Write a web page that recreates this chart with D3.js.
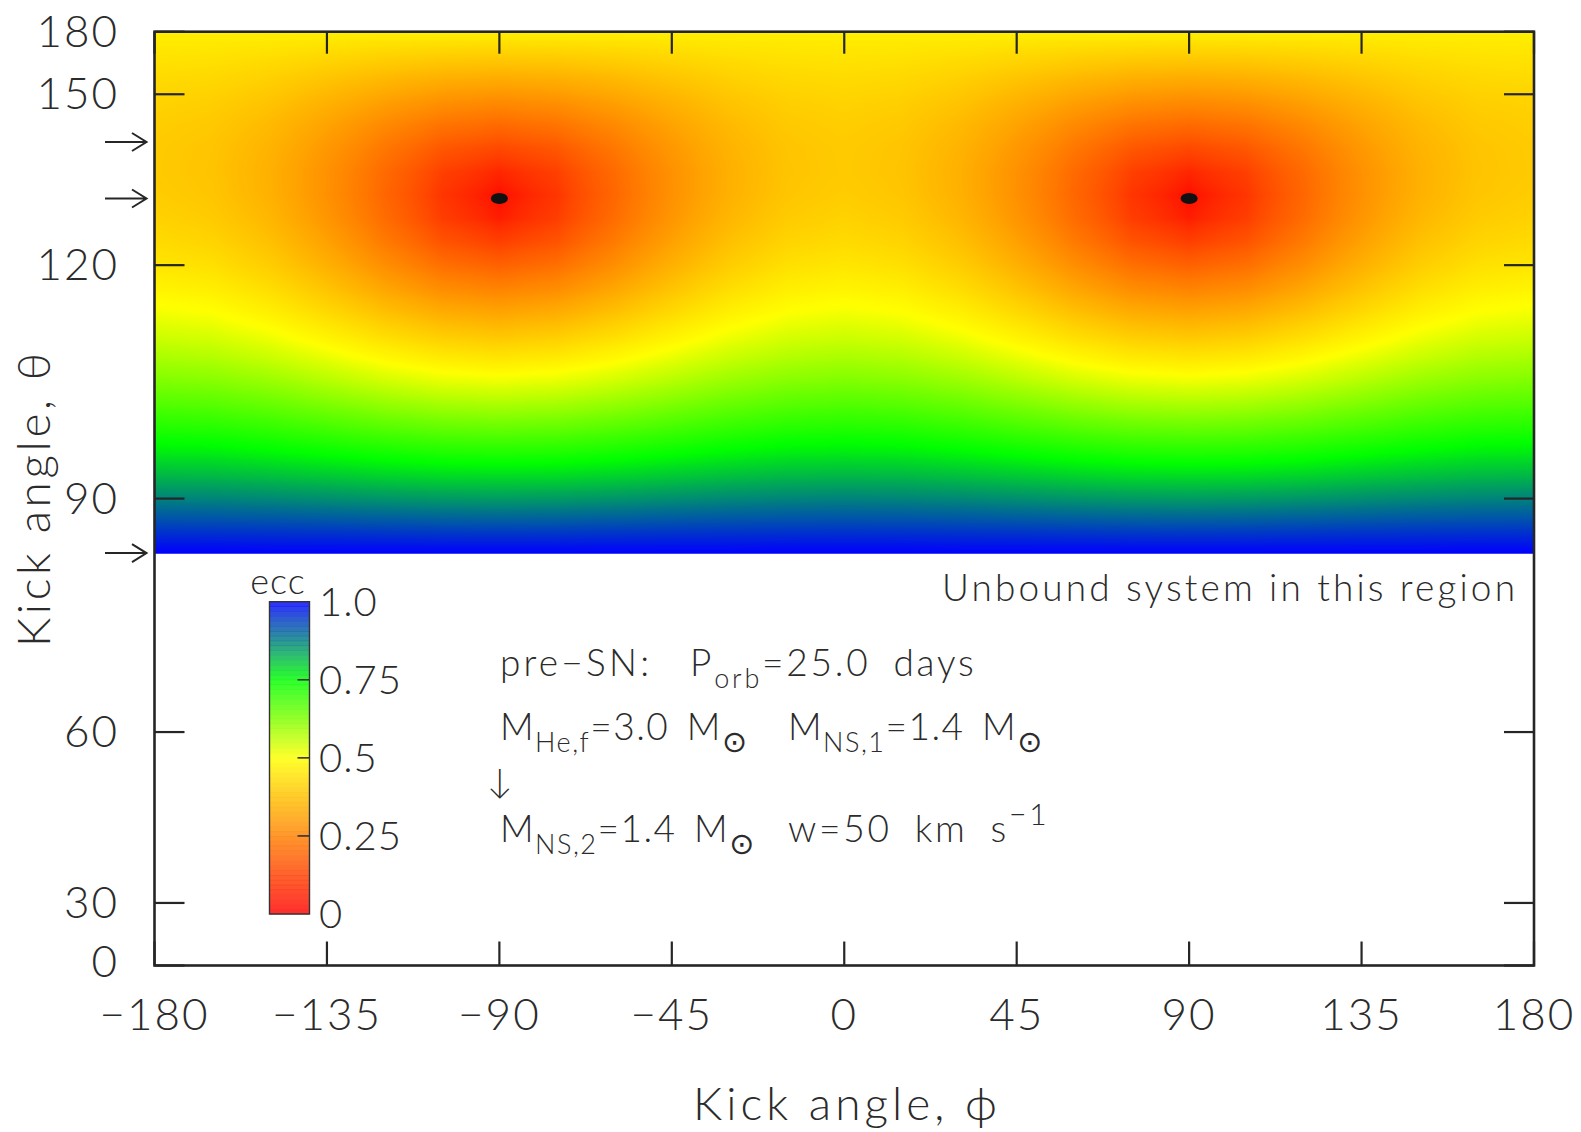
<!DOCTYPE html>
<html>
<head>
<meta charset="utf-8">
<script src="https://cdn.jsdelivr.net/npm/d3@7"></script>
<style>
  html, body { margin: 0; padding: 0; background: #fff; }
  svg { display: block; }
  text { font-family: Lato, "Open Sans", "DejaVu Sans", sans-serif; font-weight: 300; fill: #2b2b2b; }
</style>
</head>
<body>
<svg id="chart" width="1581" height="1132"></svg>
<script>
// ---- kick-direction grid ----
// azimuthal kick angle phi (deg), one column each
const phiGrid = [-180, -165, -150, -135, -120, -105, -90, -75, -60, -45, -30, -15, 0,
                 15, 30, 45, 60, 75, 90, 105, 120, 135, 150, 165, 180];
// cos(theta) of each row; the last row is the bound/unbound limit (theta ~ 83.3 deg)
const cosThetaGrid = [-1.00, -0.95, -0.90, -0.85, -0.80, -0.75, -0.70, -0.65, -0.60, -0.55,
                      -0.50, -0.45, -0.40, -0.35, -0.30, -0.25, -0.20, -0.15, -0.10, -0.05,
                       0.00, 0.05, 0.10, 0.1185];
// post-SN eccentricity, one row per cos(theta), one value per phi column
const eccRows = [
  [0.470,0.470,0.470,0.470,0.470,0.470,0.470,0.470,0.470,0.470,0.470,0.470,0.470,0.470,0.470,0.470,0.470,0.470,0.470,0.470,0.470,0.470,0.470,0.470,0.470],
  [0.448,0.445,0.438,0.427,0.415,0.407,0.404,0.407,0.415,0.427,0.438,0.445,0.448,0.445,0.438,0.427,0.415,0.407,0.404,0.407,0.415,0.427,0.438,0.445,0.448],
  [0.429,0.424,0.409,0.386,0.363,0.345,0.338,0.345,0.363,0.386,0.409,0.424,0.429,0.424,0.409,0.386,0.363,0.345,0.338,0.345,0.363,0.386,0.409,0.424,0.429],
  [0.414,0.406,0.384,0.350,0.314,0.284,0.272,0.284,0.314,0.350,0.384,0.406,0.414,0.406,0.384,0.350,0.314,0.284,0.272,0.284,0.314,0.350,0.384,0.406,0.414],
  [0.403,0.393,0.364,0.320,0.269,0.225,0.206,0.225,0.269,0.320,0.364,0.393,0.403,0.393,0.364,0.320,0.269,0.225,0.206,0.225,0.269,0.320,0.364,0.393,0.403],
  [0.397,0.385,0.351,0.298,0.233,0.170,0.140,0.170,0.233,0.298,0.351,0.385,0.397,0.385,0.351,0.298,0.233,0.170,0.140,0.170,0.233,0.298,0.351,0.385,0.397],
  [0.396,0.383,0.345,0.285,0.208,0.125,0.075,0.125,0.208,0.285,0.345,0.383,0.396,0.383,0.345,0.285,0.208,0.125,0.075,0.125,0.208,0.285,0.345,0.383,0.396],
  [0.401,0.387,0.347,0.284,0.201,0.104,0.009,0.104,0.201,0.284,0.347,0.387,0.401,0.387,0.347,0.284,0.201,0.104,0.009,0.104,0.201,0.284,0.347,0.387,0.401],
  [0.412,0.398,0.358,0.294,0.212,0.120,0.057,0.120,0.212,0.294,0.358,0.398,0.412,0.398,0.358,0.294,0.212,0.120,0.057,0.120,0.212,0.294,0.358,0.398,0.412],
  [0.429,0.416,0.377,0.316,0.240,0.163,0.123,0.163,0.240,0.316,0.377,0.416,0.429,0.416,0.377,0.316,0.240,0.163,0.123,0.163,0.240,0.316,0.377,0.416,0.429],
  [0.451,0.439,0.402,0.346,0.279,0.217,0.189,0.217,0.279,0.346,0.402,0.439,0.451,0.439,0.402,0.346,0.279,0.217,0.189,0.217,0.279,0.346,0.402,0.439,0.451],
  [0.479,0.467,0.434,0.383,0.325,0.275,0.255,0.275,0.325,0.383,0.434,0.467,0.479,0.467,0.434,0.383,0.325,0.275,0.255,0.275,0.325,0.383,0.434,0.467,0.479],
  [0.510,0.500,0.470,0.426,0.377,0.337,0.321,0.337,0.377,0.426,0.470,0.500,0.510,0.500,0.470,0.426,0.377,0.337,0.321,0.337,0.377,0.426,0.470,0.500,0.510],
  [0.546,0.537,0.511,0.473,0.432,0.399,0.386,0.399,0.432,0.473,0.511,0.537,0.546,0.537,0.511,0.473,0.432,0.399,0.386,0.399,0.432,0.473,0.511,0.537,0.546],
  [0.585,0.577,0.555,0.523,0.489,0.462,0.452,0.462,0.489,0.523,0.555,0.577,0.585,0.577,0.555,0.523,0.489,0.462,0.452,0.462,0.489,0.523,0.555,0.577,0.585],
  [0.627,0.620,0.602,0.575,0.547,0.526,0.518,0.526,0.547,0.575,0.602,0.620,0.627,0.620,0.602,0.575,0.547,0.526,0.518,0.526,0.547,0.575,0.602,0.620,0.627],
  [0.672,0.666,0.651,0.629,0.607,0.590,0.584,0.590,0.607,0.629,0.651,0.666,0.672,0.666,0.651,0.629,0.607,0.590,0.584,0.590,0.607,0.629,0.651,0.666,0.672],
  [0.719,0.715,0.702,0.685,0.668,0.655,0.650,0.655,0.668,0.685,0.702,0.715,0.719,0.715,0.702,0.685,0.668,0.655,0.650,0.655,0.668,0.685,0.702,0.715,0.719],
  [0.768,0.765,0.755,0.742,0.729,0.719,0.716,0.719,0.729,0.742,0.755,0.765,0.768,0.765,0.755,0.742,0.729,0.719,0.716,0.719,0.729,0.742,0.755,0.765,0.768],
  [0.819,0.817,0.810,0.801,0.791,0.784,0.782,0.784,0.791,0.801,0.810,0.817,0.819,0.817,0.810,0.801,0.791,0.784,0.782,0.784,0.791,0.801,0.810,0.817,0.819],
  [0.872,0.870,0.866,0.860,0.854,0.849,0.847,0.849,0.854,0.860,0.866,0.870,0.872,0.870,0.866,0.860,0.854,0.849,0.847,0.849,0.854,0.860,0.866,0.870,0.872],
  [0.926,0.925,0.923,0.920,0.917,0.914,0.913,0.914,0.917,0.920,0.923,0.925,0.926,0.925,0.923,0.920,0.917,0.914,0.913,0.914,0.917,0.920,0.923,0.925,0.926],
  [0.982,0.982,0.981,0.981,0.980,0.979,0.979,0.979,0.980,0.981,0.981,0.982,0.982,0.982,0.981,0.981,0.980,0.979,0.979,0.979,0.980,0.981,0.981,0.982,0.982],
  [1.000,1.000,1.000,1.000,1.000,1.000,1.000,1.000,1.000,1.000,1.000,1.000,1.000,1.000,1.000,1.000,1.000,1.000,1.000,1.000,1.000,1.000,1.000,1.000,1.000]
];

// ---- axes, markers, colour bar ----
const phiTicks = [-180, -135, -90, -45, 0, 45, 90, 135, 180];
const thetaTicks = [0, 30, 60, 90, 120, 150, 180];
const markedTheta = [139.8, 130.0, 83.3];            // arrows on the theta axis
const circularOrbits = [{ phi: -90, theta: 130.0 }, { phi: 90, theta: 130.0 }];  // ecc = 0
const eccStops = [0, 0.25, 0.5, 0.75, 1.0];
const eccColors = ["#ff0000", "#ff8000", "#ffff00", "#00ff00", "#0000ff"];
const eccTicks = [0, 0.25, 0.5, 0.75, 1.0];
const eccTickLabels = ["0", "0.25", "0.5", "0.75", "1.0"];

(function draw() {
  const svg = d3.select("#chart");
  const pL = 154.5, pR = 1534, pT = 31.7, pB = 965.5;

  const x = d3.scaleLinear().domain([-180, 180]).range([pL, pR]);
  // theta axis is uniform in cos(theta): theta = 180 at the top, 0 at the bottom
  const yCos = d3.scaleLinear().domain([-1, 1]).range([pT, pB]);
  const yTheta = t => yCos(Math.cos(t * Math.PI / 180));
  const color = d3.scaleLinear().domain(eccStops).range(eccColors).interpolate(d3.interpolateRgb).clamp(true);

  // ---- eccentricity map (canvas image) ----
  const cosMax = cosThetaGrid[cosThetaGrid.length - 1];
  const W = Math.round(pR - pL);
  const H = Math.ceil(yCos(cosMax) - pT);
  const canvas = document.createElement("canvas");
  canvas.width = W; canvas.height = H;
  const ctx = canvas.getContext("2d");
  const img = ctx.createImageData(W, H);

  const lut = d3.range(1001).map(k => d3.rgb(color(k / 1000)));
  const sq = eccRows.map(r => r.map(v => v * v));

  const colIdx = new Int32Array(W), colW = new Float64Array(W);
  for (let i = 0; i < W; i++) {
    const phi = x.invert(pL + i + 0.5);
    let c = d3.bisectRight(phiGrid, phi) - 1;
    c = Math.max(0, Math.min(phiGrid.length - 2, c));
    colIdx[i] = c;
    colW[i] = (phi - phiGrid[c]) / (phiGrid[c + 1] - phiGrid[c]);
  }
  for (let j = 0; j < H; j++) {
    const cth = yCos.invert(pT + j + 0.5);
    if (cth > cosMax) continue;
    let r = d3.bisectRight(cosThetaGrid, cth) - 1;
    r = Math.max(0, Math.min(cosThetaGrid.length - 2, r));
    const tr = (cth - cosThetaGrid[r]) / (cosThetaGrid[r + 1] - cosThetaGrid[r]);
    const a = sq[r], b = sq[r + 1];
    for (let i = 0; i < W; i++) {
      const c = colIdx[i], tc = colW[i];
      const u0 = a[c] + (a[c + 1] - a[c]) * tc;
      const u1 = b[c] + (b[c + 1] - b[c]) * tc;
      const e = Math.sqrt(Math.max(0, u0 + (u1 - u0) * tr));
      const col = lut[Math.max(0, Math.min(1000, Math.round(e * 1000)))];
      const p = (j * W + i) * 4;
      img.data[p] = col.r; img.data[p + 1] = col.g; img.data[p + 2] = col.b; img.data[p + 3] = 255;
    }
  }
  ctx.putImageData(img, 0, 0);
  svg.append("image")
    .attr("x", pL).attr("y", pT)
    .attr("width", W).attr("height", H)
    .attr("preserveAspectRatio", "none")
    .attr("href", canvas.toDataURL());

  // circular post-SN orbits
  svg.append("g").selectAll("ellipse").data(circularOrbits).join("ellipse")
    .attr("cx", d => x(d.phi)).attr("cy", d => yTheta(d.theta))
    .attr("rx", 8.5).attr("ry", 5.5).attr("fill", "#111");

  // ---- frame and ticks ----
  const ink = "#262626";
  svg.append("rect").attr("x", pL).attr("y", pT).attr("width", pR - pL).attr("height", pB - pT)
    .attr("fill", "none").attr("stroke", ink).attr("stroke-width", 2.6);

  const tk = svg.append("g").attr("stroke", ink).attr("stroke-width", 2.2);
  tk.selectAll(".xb").data(phiTicks).join("line").attr("class", "xb")
    .attr("x1", d => x(d)).attr("x2", d => x(d)).attr("y1", pB).attr("y2", pB - 24);
  tk.selectAll(".xt").data(phiTicks).join("line").attr("class", "xt")
    .attr("x1", d => x(d)).attr("x2", d => x(d)).attr("y1", pT).attr("y2", pT + 22);
  tk.selectAll(".yl").data(thetaTicks).join("line").attr("class", "yl")
    .attr("x1", pL).attr("x2", pL + 30).attr("y1", d => yTheta(d)).attr("y2", d => yTheta(d));
  tk.selectAll(".yr").data(thetaTicks).join("line").attr("class", "yr")
    .attr("x1", pR).attr("x2", pR - 30).attr("y1", d => yTheta(d)).attr("y2", d => yTheta(d));

  // tick labels
  const xLab = svg.append("g").selectAll("text").data(phiTicks).join("text")
    .attr("x", d => x(d)).attr("y", 1026).attr("text-anchor", "middle")
    .attr("font-size", 44).attr("letter-spacing", 2)
    .text(d => d < 0 ? "\u2212" + Math.abs(d) : String(d));
  const yLab = svg.append("g").selectAll("text").data(thetaTicks).join("text")
    .attr("x", 119).attr("y", d => yTheta(d) + 15).attr("text-anchor", "end")
    .attr("font-size", 44).attr("letter-spacing", 2)
    .text(d => String(d));

  // keep the theta = 0 label clear of the phi = -180 label
  const zeroNode = yLab.filter(d => d === 0).node();
  const cornerNode = xLab.filter(d => d === -180).node();
  const bz = zeroNode.getBBox(), bc = cornerNode.getBBox();
  const overlap = (bz.y + bz.height) - bc.y;
  if (overlap > 0) {
    const half = overlap / 2 + 0.6;
    d3.select(zeroNode).attr("y", +d3.select(zeroNode).attr("y") - half);
    xLab.attr("y", 1026 + half);
  }

  // arrows marking special theta values
  svg.append("g").attr("stroke", ink).attr("stroke-width", 2).attr("fill", "none")
    .selectAll("path").data(markedTheta).join("path")
    .attr("d", d => {
      const yy = yTheta(d);
      return `M105,${yy}H146.5M132,${yy - 9}L146.5,${yy}L132,${yy + 9}`;
    });

  // axis titles
  svg.append("text").attr("x", 845).attr("y", 1120).attr("text-anchor", "middle")
    .attr("font-size", 46).attr("textLength", 304).attr("lengthAdjust", "spacing")
    .text("Kick angle, \u03d5");
  svg.append("text").attr("transform", "translate(50,500) rotate(-90)").attr("text-anchor", "middle")
    .attr("font-size", 46).attr("textLength", 294).attr("lengthAdjust", "spacing")
    .text("Kick angle, \u03b8");

  // ---- colour bar ----
  const cb = d3.scaleLinear().domain([0, 1]).range([914, 601.7]);
  const cbX = 269.5, cbW = 40;
  const steps = d3.range(64).map(k => k / 64);
  const cbg = svg.append("g");
  cbg.selectAll("rect").data(steps).join("rect")
    .attr("x", cbX).attr("width", cbW)
    .attr("y", d => cb(d + 1 / 64)).attr("height", cb(0) - cb(1 / 64) + 0.4)
    .attr("fill", d => color(d + 0.5 / 64)).attr("opacity", 0.82);
  cbg.append("rect").attr("x", cbX).attr("y", cb(1)).attr("width", cbW).attr("height", cb(0) - cb(1))
    .attr("fill", "none").attr("stroke", "#333").attr("stroke-width", 1.4);
  cbg.selectAll("line").data(eccTicks.filter(d => d > 0 && d < 1)).join("line")
    .attr("x1", cbX + cbW - 12).attr("x2", cbX + cbW).attr("y1", d => cb(d)).attr("y2", d => cb(d))
    .attr("stroke", "#333").attr("stroke-width", 1.6);
  cbg.selectAll("text").data(eccTicks).join("text")
    .attr("x", 319).attr("y", d => cb(d) + 14).attr("font-size", 40).attr("letter-spacing", 1)
    .text((d, i) => eccTickLabels[i]);
  cbg.append("text").attr("x", 278).attr("y", 594).attr("text-anchor", "middle")
    .attr("font-size", 36).attr("letter-spacing", 1).text("ecc");

  // ---- annotations ----
  svg.append("text").attr("x", 1515).attr("y", 601).attr("text-anchor", "end")
    .attr("font-size", 37).attr("textLength", 573).attr("lengthAdjust", "spacing")
    .text("Unbound system in this region");

  function richText(px, py, parts, ls, ws) {
    const t = svg.append("text").attr("x", px).attr("y", py).attr("font-size", 37)
      .attr("letter-spacing", ls).attr("word-spacing", ws);
    let shift = 0;
    parts.forEach(p => {
      const target = p.sub ? 12 : p.sup ? -17 : 0;
      const ts = t.append("tspan").attr("dy", target - shift).text(p.t);
      shift = target;
      if (p.sub || p.sup) ts.attr("font-size", p.sup ? 30 : 27);
      if (p.sym) ts.attr("font-family", "DejaVu Sans").attr("font-size", 30).attr("font-weight", 400);
    });
    return t;
  }
  richText(500, 676, [{ t: "pre\u2212SN:" }], 3.2, 6);
  richText(690, 676, [{ t: "P" }, { t: "orb", sub: true }, { t: "=25.0 days" }], 2.8, 10);
  richText(500, 740, [{ t: "M" }, { t: "He,f", sub: true }, { t: "=3.0 M" }, { t: "\u2299", sub: true, sym: true }], 1.5, 6);
  richText(788, 740, [{ t: "M" }, { t: "NS,1", sub: true }, { t: "=1.4 M" }, { t: "\u2299", sub: true, sym: true }], 1.5, 6);
  svg.append("text").attr("x", 487).attr("y", 793).attr("font-size", 34)
    .attr("font-family", "DejaVu Sans").attr("font-weight", 400).text("\u2193");
  richText(500, 842, [{ t: "M" }, { t: "NS,2", sub: true }, { t: "=1.4 M" }, { t: "\u2299", sub: true, sym: true }], 1.5, 6);
  richText(788, 842, [{ t: "w=50 km s" }, { t: "\u22121", sup: true }], 2.8, 10);
})();
</script>
</body>
</html>
